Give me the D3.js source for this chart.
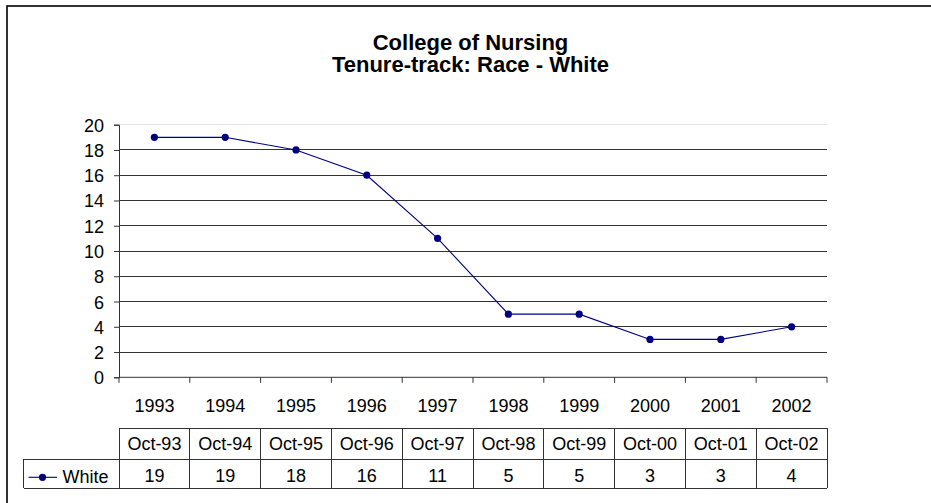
<!DOCTYPE html>
<html><head><meta charset="utf-8">
<script src="https://cdn.jsdelivr.net/npm/d3@7"></script>
<style>html,body{margin:0;padding:0;background:#fff;overflow:hidden}text{font-family:Arial,"Liberation Sans",sans-serif}</style>
</head><body><svg id="c" width="931" height="503"></svg>
<script>
const years = ["1993","1994","1995","1996","1997","1998","1999","2000","2001","2002"];
const dates = ["Oct-93","Oct-94","Oct-95","Oct-96","Oct-97","Oct-98","Oct-99","Oct-00","Oct-01","Oct-02"];
const white = [19,19,18,16,11,5,5,3,3,4];
const yTicks = [0,2,4,6,8,10,12,14,16,18,20];
const seriesName = "White";
const titleLines = ["College of Nursing","Tenure-track: Race - White"];

const svg = d3.select("#c");
const L = 119, R = 827, T = 124.7, B = 377.3;
const navy = "#000080";

svg.append("rect").attr("x",7).attr("y",6).attr("width",1000).attr("height",1000)
  .attr("fill","#fff").attr("stroke","#000").attr("stroke-width",1.6);

titleLines.forEach((t,i)=>{
  svg.append("text").attr("x",470.5).attr("y",49.5+i*22.5).attr("text-anchor","middle")
    .attr("font-weight","bold").attr("font-size",22).text(t);
});

const x = d3.scaleBand().domain(years).range([L,R]);
const y = d3.scaleLinear().domain([0,20]).range([B,T]);

// gridlines
svg.append("g").selectAll("line").data(yTicks.filter(d=>d>0)).join("line")
  .attr("x1",L).attr("x2",R).attr("y1",d=>y(d)).attr("y2",d=>y(d))
  .attr("stroke",d=>d===20?"#e6e6e6":"#333").attr("stroke-width",1).attr("shape-rendering","crispEdges");

// y axis
const ya = svg.append("g").attr("transform",`translate(${L},0)`)
  .call(d3.axisLeft(y).tickValues(yTicks).tickSize(5).tickPadding(10));
ya.select(".domain").attr("stroke","#333");
ya.selectAll(".tick line").attr("stroke","#333");
ya.selectAll("text").attr("font-size",18).attr("font-family","Arial, 'Liberation Sans', sans-serif").attr("fill","#000").attr("dy","0.36em");

// x axis (ticks at boundaries)
svg.append("line").attr("x1",L).attr("x2",R).attr("y1",B).attr("y2",B).attr("stroke","#333");
const bounds = years.map(d=>x(d)).concat([R]);
svg.append("g").selectAll("line").data(bounds).join("line")
  .attr("x1",d=>d).attr("x2",d=>d).attr("y1",B).attr("y2",B+5.5).attr("stroke","#333");
svg.append("g").selectAll("text").data(years).join("text")
  .attr("x",d=>x(d)+x.bandwidth()/2).attr("y",411.5).attr("text-anchor","middle")
  .attr("font-size",18).text(d=>d);

// line + markers
const line = d3.line().x((d,i)=>x(years[i])+x.bandwidth()/2).y(d=>y(d));
svg.append("path").datum(white).attr("d",line).attr("fill","none").attr("stroke",navy).attr("stroke-width",1.1);
svg.append("g").selectAll("circle").data(white).join("circle")
  .attr("cx",(d,i)=>x(years[i])+x.bandwidth()/2).attr("cy",d=>y(d)).attr("r",3.6).attr("fill",navy);

// data table
const t1 = 428, t2 = 459, t3 = 488, legL = 23.5;
const tg = svg.append("g").attr("stroke","#333").attr("stroke-width",1).attr("shape-rendering","crispEdges");
tg.append("line").attr("x1",L).attr("x2",R).attr("y1",t1).attr("y2",t1);
tg.append("line").attr("x1",legL).attr("x2",R).attr("y1",t2).attr("y2",t2);
tg.append("line").attr("x1",legL).attr("x2",R).attr("y1",t3).attr("y2",t3);
tg.append("line").attr("x1",legL).attr("x2",legL).attr("y1",t2).attr("y2",t3);
tg.selectAll(".v").data(bounds).join("line").attr("class","v")
  .attr("x1",d=>d).attr("x2",d=>d).attr("y1",t1).attr("y2",t3);

svg.append("g").selectAll("text").data(dates).join("text")
  .attr("x",(d,i)=>x(years[i])+x.bandwidth()/2).attr("y",450).attr("text-anchor","middle")
  .attr("font-size",18).text(d=>d);
svg.append("g").selectAll("text").data(white).join("text")
  .attr("x",(d,i)=>x(years[i])+x.bandwidth()/2).attr("y",482).attr("text-anchor","middle")
  .attr("font-size",18).text(d=>d);

// legend key
svg.append("line").attr("x1",28.5).attr("x2",57).attr("y1",477.3).attr("y2",477.3).attr("stroke",navy).attr("stroke-width",1.1);
svg.append("circle").attr("cx",42.5).attr("cy",477.3).attr("r",3.6).attr("fill",navy);
svg.append("text").attr("x",62.5).attr("y",482.5).attr("font-size",18).text(seriesName);
</script></body></html>
